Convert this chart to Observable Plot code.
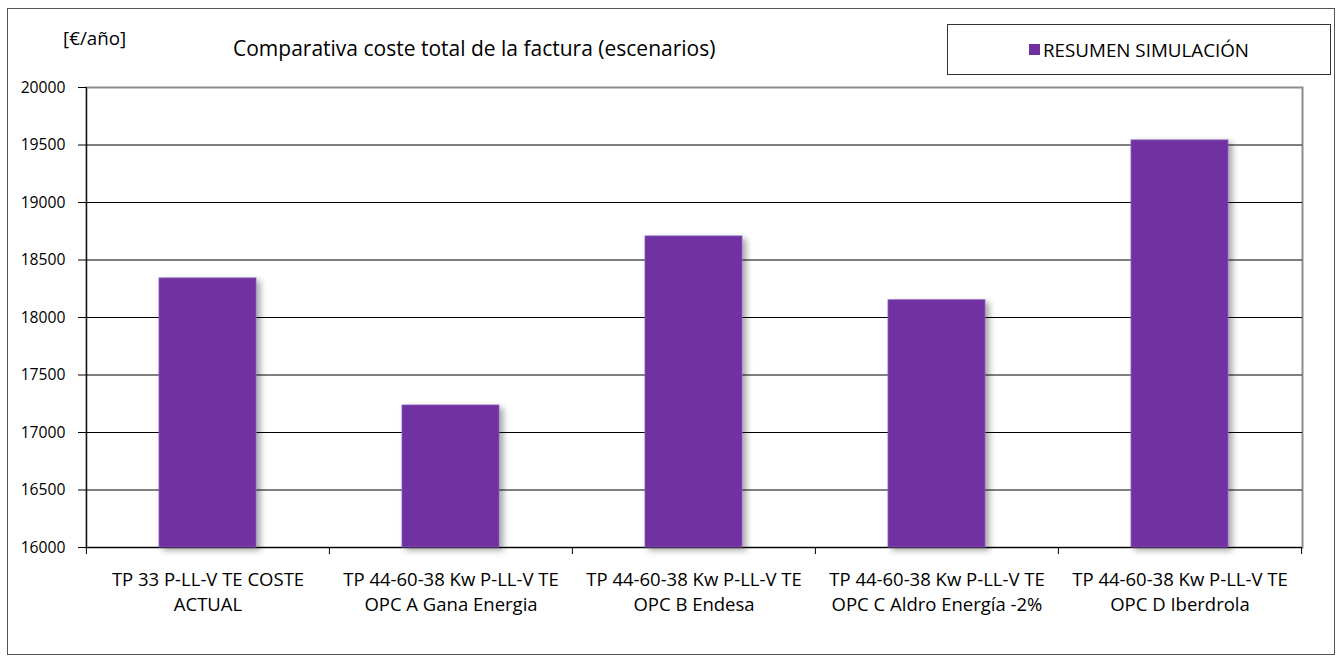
<!DOCTYPE html>
<html>
<head>
<meta charset="utf-8">
<script src="https://cdn.jsdelivr.net/npm/d3@7"></script>
<script src="https://cdn.jsdelivr.net/npm/@observablehq/plot@0.6"></script>
<style>
  html, body { margin: 0; padding: 0; background: #fff; }
  #wrap { position: relative; width: 1343px; height: 663px; overflow: hidden; font-family: "Open Sans", sans-serif; color: #000; }
  #outer { position: absolute; left: 7px; top: 8px; width: 1328px; height: 647px; border: 1px solid #555; box-sizing: border-box; }
  #chart { position: absolute; left: 0; top: 0; }
  #units { position: absolute; left: 63px; top: 26px; font-size: 18.8px; line-height: 24px; white-space: nowrap; }
  #title { position: absolute; left: 233px; top: 34px; font-size: 21px; line-height: 28px; white-space: nowrap; }
  #legend { position: absolute; left: 947px; top: 24px; width: 384px; height: 51px; border: 1px solid #333; box-sizing: border-box; background: #fff;
            display: flex; align-items: center; justify-content: center; font-size: 18.8px; }
  #legend .sw { display: inline-block; width: 11px; height: 11px; background: #7030A0; margin-right: 3px; }
</style>
</head>
<body>
<div id="wrap">
  <div id="outer"></div>
  <div id="chart"></div>
  <div id="units">[€/año]</div>
  <div id="title">Comparativa coste total de la factura (escenarios)</div>
  <div id="legend"><span class="sw"></span><span>RESUMEN SIMULACIÓN</span></div>
</div>
<script>
const categories = [
  "TP 33 P-LL-V TE COSTE\nACTUAL",
  "TP 44-60-38 Kw P-LL-V TE\nOPC A Gana Energia",
  "TP 44-60-38 Kw P-LL-V TE\nOPC B Endesa",
  "TP 44-60-38 Kw P-LL-V TE\nOPC C Aldro Energía -2%",
  "TP 44-60-38 Kw P-LL-V TE\nOPC D Iberdrola"
];
const values = [18340, 17235, 18705, 18150, 19540];
const yTicks = [16000, 16500, 17000, 17500, 18000, 18500, 19000, 19500, 20000];
const seriesName = "RESUMEN SIMULACIÓN";

const data = categories.map((c, i) => ({cat: c, value: values[i]}));
const W = 1343, H = 663, ML = 86, MR = 41, MT = 87, MB = 116;
const step = (W - ML - MR) / categories.length;

const chart = Plot.plot({
  width: W, height: H,
  marginLeft: ML, marginRight: MR, marginTop: MT, marginBottom: MB,
  style: {fontFamily: "'Open Sans', sans-serif", fontSize: "15px", color: "#000", background: "transparent"},
  x: {domain: categories, paddingInner: 0.6, paddingOuter: 0.3, label: null},
  y: {domain: [16000, 20000], ticks: yTicks, label: null},
  marks: [
    Plot.frame({stroke: "#8c8c8c", strokeWidth: 2}),
    Plot.ruleY(yTicks.filter(d => d < 20000), {stroke: "#000", strokeWidth: 1}),
    Plot.ruleX([categories[0]], {dx: -step / 2, y1: 16000, y2: 20000, stroke: "#000"}),
    Plot.ruleX(categories, {dx: -step / 2, y1: 16000, y2: 16000, insetBottom: -7, stroke: "#000"}),
    Plot.ruleX([categories[categories.length - 1]], {dx: step / 2, y1: 16000, y2: 16000, insetBottom: -7, stroke: "#000"}),
    Plot.barY(data, {x: "cat", y1: 16000, y2: "value", fill: "#7030A0", stroke: "#8a5cbf", strokeWidth: 0.8, title: d => seriesName}),
    Plot.axisY({ticks: yTicks, tickSize: 8, tickPadding: 13, tickFormat: d => String(d), label: null, fontSize: 15.7}),
    Plot.axisX({tickSize: 0, tickPadding: 21, lineHeight: 1.33, label: null, fontSize: 18.5})
  ]
});
document.getElementById("chart").appendChild(chart);

// drop shadow on bars
const svg = d3.select(chart);
const defs = svg.insert("defs", ":first-child");
const f = defs.append("filter").attr("id", "sh").attr("x", "-20%").attr("y", "-10%").attr("width", "150%").attr("height", "130%");
f.append("feDropShadow").attr("dx", 4).attr("dy", 3).attr("stdDeviation", 3).attr("flood-color", "#000").attr("flood-opacity", 0.35);
svg.selectAll("g[aria-label='bar']").attr("filter", "url(#sh)");
</script>
</body>
</html>
